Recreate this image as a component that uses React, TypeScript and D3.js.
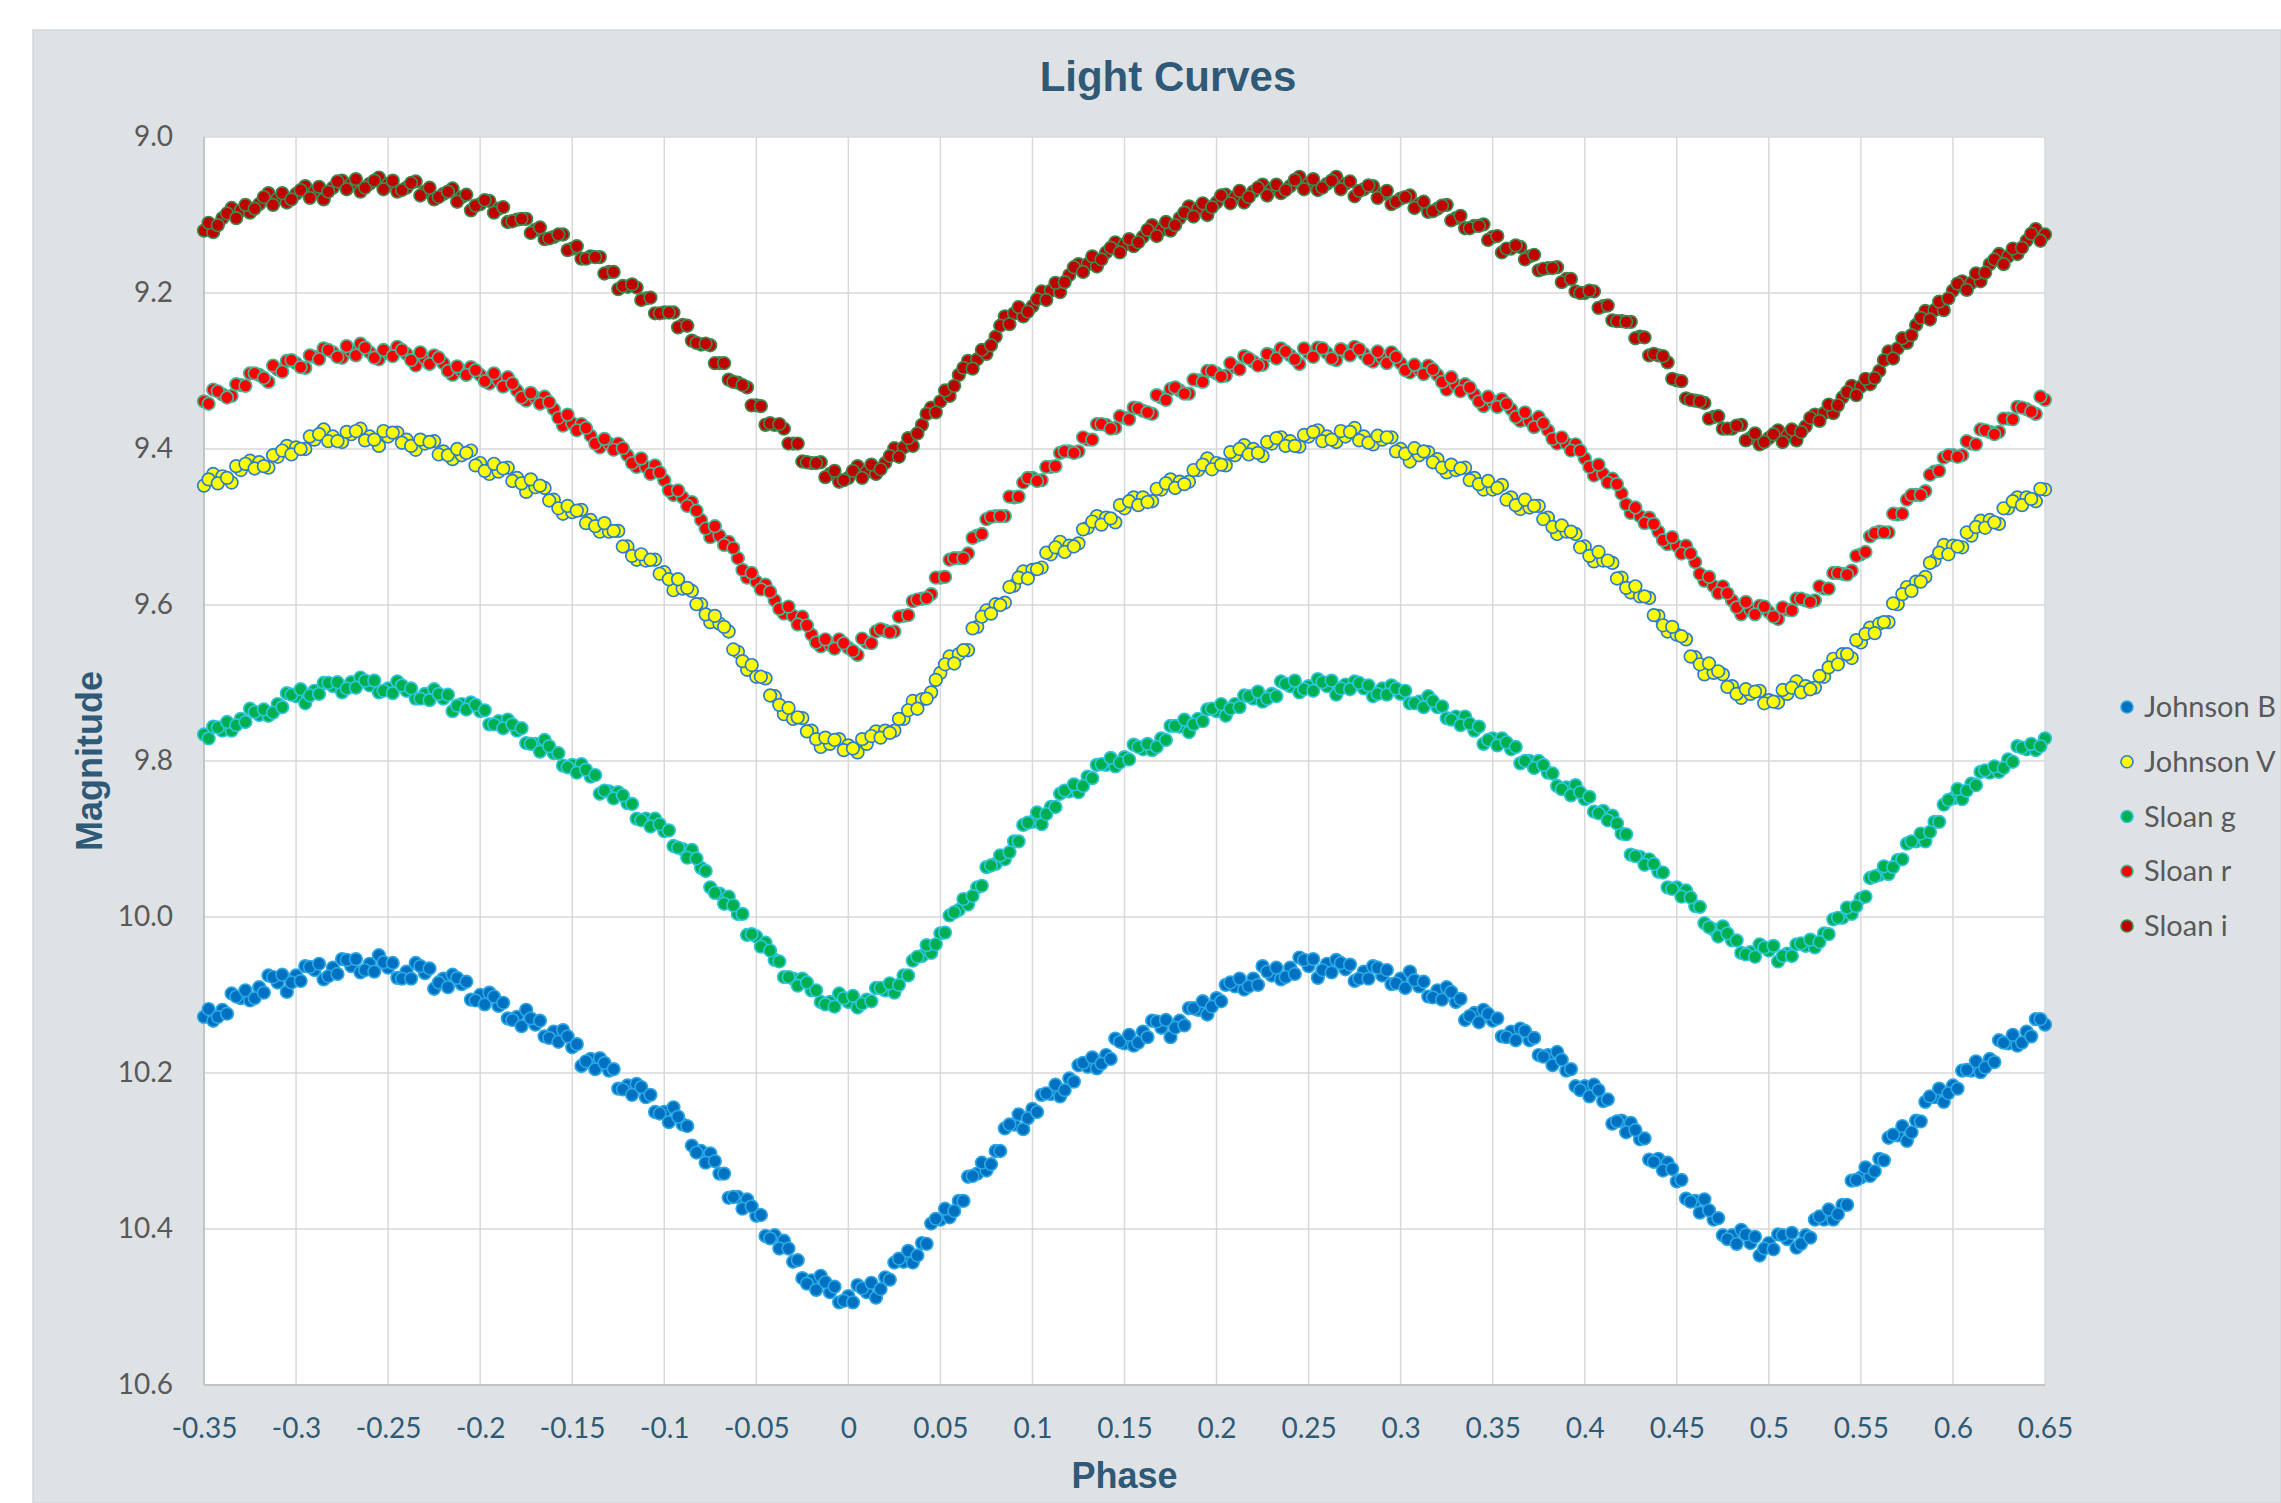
import React, { useEffect, useRef } from 'react';
import * as d3 from 'd3';

const W = 2281;
const H = 1503;

// axis ticks
const phaseTicks = [-0.35, -0.3, -0.25, -0.2, -0.15, -0.1, -0.05, 0, 0.05, 0.1, 0.15, 0.2, 0.25, 0.3, 0.35, 0.4, 0.45, 0.5, 0.55, 0.6, 0.65];
const phaseTickLabels = ['-0.35', '-0.3', '-0.25', '-0.2', '-0.15', '-0.1', '-0.05', '0', '0.05', '0.1', '0.15', '0.2', '0.25', '0.3', '0.35', '0.4', '0.45', '0.5', '0.55', '0.6', '0.65'];
const magTicks = [9.0, 9.2, 9.4, 9.6, 9.8, 10.0, 10.2, 10.4, 10.6];

// observation phases, first pass
const phases = [
  -0.35, -0.345, -0.34, -0.335, -0.33, -0.325, -0.32, -0.315, -0.31, -0.305,
  -0.3, -0.295, -0.29, -0.285, -0.28, -0.275, -0.27, -0.265, -0.26, -0.255,
  -0.25, -0.245, -0.24, -0.235, -0.23, -0.225, -0.22, -0.215, -0.21, -0.205,
  -0.2, -0.195, -0.19, -0.185, -0.18, -0.175, -0.17, -0.165, -0.16, -0.155,
  -0.15, -0.145, -0.14, -0.135, -0.13, -0.125, -0.12, -0.115, -0.11, -0.105,
  -0.1, -0.095, -0.09, -0.085, -0.08, -0.075, -0.07, -0.065, -0.06, -0.055,
  -0.05, -0.045, -0.04, -0.035, -0.03, -0.025, -0.02, -0.015, -0.01, -0.005,
  0, 0.005, 0.01, 0.015, 0.02, 0.025, 0.03, 0.035, 0.04, 0.045,
  0.05, 0.055, 0.06, 0.065, 0.07, 0.075, 0.08, 0.085, 0.09, 0.095,
  0.1, 0.105, 0.11, 0.115, 0.12, 0.125, 0.13, 0.135, 0.14, 0.145,
  0.15, 0.155, 0.16, 0.165, 0.17, 0.175, 0.18, 0.185, 0.19, 0.195,
  0.2, 0.205, 0.21, 0.215, 0.22, 0.225, 0.23, 0.235, 0.24, 0.245,
  0.25, 0.255, 0.26, 0.265, 0.27, 0.275, 0.28, 0.285, 0.29, 0.295,
  0.3, 0.305, 0.31, 0.315, 0.32, 0.325, 0.33, 0.335, 0.34, 0.345,
  0.35, 0.355, 0.36, 0.365, 0.37, 0.375, 0.38, 0.385, 0.39, 0.395,
  0.4, 0.405, 0.41, 0.415, 0.42, 0.425, 0.43, 0.435, 0.44, 0.445,
  0.45, 0.455, 0.46, 0.465, 0.47, 0.475, 0.48, 0.485, 0.49, 0.495,
  0.5, 0.505, 0.51, 0.515, 0.52, 0.525, 0.53, 0.535, 0.54, 0.545,
  0.55, 0.555, 0.56, 0.565, 0.57, 0.575, 0.58, 0.585, 0.59, 0.595,
  0.6, 0.605, 0.61, 0.615, 0.62, 0.625, 0.63, 0.635, 0.64, 0.645,
  0.65
];

// observation phases, second pass
const phases2 = [
  -0.3475, -0.3425, -0.3375, -0.3325, -0.3275, -0.3225, -0.3175, -0.3125, -0.3075, -0.3025,
  -0.2975, -0.2925, -0.2875, -0.2825, -0.2775, -0.2725, -0.2675, -0.2625, -0.2575, -0.2525,
  -0.2475, -0.2425, -0.2375, -0.2325, -0.2275, -0.2225, -0.2175, -0.2125, -0.2075, -0.2025,
  -0.1975, -0.1925, -0.1875, -0.1825, -0.1775, -0.1725, -0.1675, -0.1625, -0.1575, -0.1525,
  -0.1475, -0.1425, -0.1375, -0.1325, -0.1275, -0.1225, -0.1175, -0.1125, -0.1075, -0.1025,
  -0.0975, -0.0925, -0.0875, -0.0825, -0.0775, -0.0725, -0.0675, -0.0625, -0.0575, -0.0525,
  -0.0475, -0.0425, -0.0375, -0.0325, -0.0275, -0.0225, -0.0175, -0.0125, -0.0075, -0.0025,
  0.0025, 0.0075, 0.0125, 0.0175, 0.0225, 0.0275, 0.0325, 0.0375, 0.0425, 0.0475,
  0.0525, 0.0575, 0.0625, 0.0675, 0.0725, 0.0775, 0.0825, 0.0875, 0.0925, 0.0975,
  0.1025, 0.1075, 0.1125, 0.1175, 0.1225, 0.1275, 0.1325, 0.1375, 0.1425, 0.1475,
  0.1525, 0.1575, 0.1625, 0.1675, 0.1725, 0.1775, 0.1825, 0.1875, 0.1925, 0.1975,
  0.2025, 0.2075, 0.2125, 0.2175, 0.2225, 0.2275, 0.2325, 0.2375, 0.2425, 0.2475,
  0.2525, 0.2575, 0.2625, 0.2675, 0.2725, 0.2775, 0.2825, 0.2875, 0.2925, 0.2975,
  0.3025, 0.3075, 0.3125, 0.3175, 0.3225, 0.3275, 0.3325, 0.3375, 0.3425, 0.3475,
  0.3525, 0.3575, 0.3625, 0.3675, 0.3725, 0.3775, 0.3825, 0.3875, 0.3925, 0.3975,
  0.4025, 0.4075, 0.4125, 0.4175, 0.4225, 0.4275, 0.4325, 0.4375, 0.4425, 0.4475,
  0.4525, 0.4575, 0.4625, 0.4675, 0.4725, 0.4775, 0.4825, 0.4875, 0.4925, 0.4975,
  0.5025, 0.5075, 0.5125, 0.5175, 0.5225, 0.5275, 0.5325, 0.5375, 0.5425, 0.5475,
  0.5525, 0.5575, 0.5625, 0.5675, 0.5725, 0.5775, 0.5825, 0.5875, 0.5925, 0.5975,
  0.6025, 0.6075, 0.6125, 0.6175, 0.6225, 0.6275, 0.6325, 0.6375, 0.6425, 0.6475
];

const johnsonB = [
  10.128, 10.133, 10.119, 10.098, 10.104, 10.107, 10.090, 10.075, 10.084, 10.096,
  10.075, 10.063, 10.068, 10.080, 10.065, 10.054, 10.063, 10.071, 10.060, 10.049,
  10.065, 10.078, 10.070, 10.059, 10.072, 10.092, 10.079, 10.074, 10.086, 10.106,
  10.100, 10.097, 10.114, 10.130, 10.128, 10.119, 10.138, 10.153, 10.147, 10.145,
  10.167, 10.191, 10.182, 10.181, 10.197, 10.220, 10.216, 10.214, 10.231, 10.250,
  10.250, 10.244, 10.266, 10.293, 10.300, 10.303, 10.329, 10.360, 10.359, 10.362,
  10.383, 10.409, 10.408, 10.415, 10.442, 10.463, 10.466, 10.460, 10.481, 10.494,
  10.486, 10.472, 10.481, 10.488, 10.462, 10.443, 10.442, 10.443, 10.418, 10.393,
  10.388, 10.385, 10.364, 10.333, 10.329, 10.325, 10.300, 10.271, 10.266, 10.272,
  10.246, 10.228, 10.227, 10.230, 10.207, 10.190, 10.192, 10.194, 10.177, 10.156,
  10.162, 10.165, 10.147, 10.133, 10.142, 10.154, 10.133, 10.117, 10.119, 10.125,
  10.104, 10.087, 10.089, 10.093, 10.079, 10.063, 10.075, 10.080, 10.065, 10.052,
  10.063, 10.078, 10.060, 10.055, 10.067, 10.082, 10.070, 10.063, 10.075, 10.086,
  10.079, 10.070, 10.089, 10.102, 10.094, 10.090, 10.109, 10.132, 10.123, 10.119,
  10.133, 10.153, 10.147, 10.143, 10.158, 10.177, 10.177, 10.173, 10.197, 10.217,
  10.217, 10.215, 10.236, 10.265, 10.261, 10.264, 10.285, 10.311, 10.310, 10.315,
  10.339, 10.361, 10.364, 10.362, 10.388, 10.408, 10.408, 10.401, 10.418, 10.434,
  10.418, 10.407, 10.413, 10.424, 10.408, 10.388, 10.388, 10.388, 10.369, 10.338,
  10.334, 10.332, 10.310, 10.283, 10.280, 10.287, 10.261, 10.237, 10.231, 10.237,
  10.216, 10.197, 10.197, 10.199, 10.182, 10.158, 10.162, 10.165, 10.147, 10.131,
  10.138
];

const johnsonB2 = [
  10.118, 10.128, 10.124, 10.102, 10.094, 10.104, 10.097, 10.077, 10.074, 10.084,
  10.082, 10.064, 10.060, 10.076, 10.073, 10.055, 10.054, 10.068, 10.070, 10.058,
  10.059, 10.079, 10.079, 10.063, 10.066, 10.084, 10.090, 10.078, 10.083, 10.107,
  10.112, 10.102, 10.110, 10.132, 10.140, 10.130, 10.133, 10.155, 10.160, 10.153,
  10.163, 10.185, 10.195, 10.187, 10.195, 10.221, 10.228, 10.218, 10.228, 10.252,
  10.263, 10.256, 10.268, 10.302, 10.315, 10.313, 10.329, 10.359, 10.374, 10.371,
  10.382, 10.412, 10.425, 10.425, 10.440, 10.470, 10.478, 10.468, 10.474, 10.492,
  10.494, 10.476, 10.469, 10.477, 10.465, 10.438, 10.428, 10.434, 10.419, 10.387,
  10.374, 10.377, 10.364, 10.332, 10.315, 10.317, 10.300, 10.266, 10.253, 10.258,
  10.250, 10.226, 10.215, 10.222, 10.211, 10.187, 10.180, 10.188, 10.182, 10.160,
  10.151, 10.161, 10.154, 10.134, 10.132, 10.142, 10.139, 10.117, 10.108, 10.115,
  10.108, 10.084, 10.079, 10.089, 10.087, 10.070, 10.065, 10.077, 10.073, 10.055,
  10.054, 10.068, 10.071, 10.059, 10.061, 10.079, 10.079, 10.065, 10.068, 10.085,
  10.091, 10.081, 10.083, 10.103, 10.106, 10.096, 10.105, 10.127, 10.135, 10.124,
  10.130, 10.154, 10.158, 10.146, 10.155, 10.179, 10.190, 10.183, 10.195, 10.222,
  10.230, 10.222, 10.234, 10.262, 10.276, 10.273, 10.284, 10.314, 10.325, 10.323,
  10.337, 10.365, 10.379, 10.376, 10.386, 10.413, 10.419, 10.407, 10.410, 10.425,
  10.426, 10.408, 10.405, 10.419, 10.411, 10.384, 10.375, 10.381, 10.369, 10.337,
  10.321, 10.326, 10.312, 10.279, 10.268, 10.276, 10.262, 10.230, 10.220, 10.226,
  10.220, 10.196, 10.185, 10.193, 10.186, 10.161, 10.151, 10.161, 10.153, 10.131
];

const johnsonV = [
  9.447, 9.432, 9.435, 9.443, 9.427, 9.415, 9.417, 9.424, 9.410, 9.396,
  9.398, 9.400, 9.388, 9.375, 9.384, 9.391, 9.381, 9.374, 9.384, 9.396,
  9.384, 9.379, 9.388, 9.401, 9.393, 9.390, 9.403, 9.413, 9.408, 9.402,
  9.418, 9.432, 9.429, 9.424, 9.437, 9.455, 9.449, 9.450, 9.465, 9.483,
  9.481, 9.478, 9.491, 9.506, 9.506, 9.505, 9.525, 9.542, 9.543, 9.542,
  9.558, 9.581, 9.579, 9.582, 9.599, 9.622, 9.624, 9.634, 9.660, 9.683,
  9.692, 9.694, 9.717, 9.740, 9.746, 9.745, 9.761, 9.782, 9.778, 9.772,
  9.780, 9.789, 9.778, 9.762, 9.761, 9.761, 9.746, 9.723, 9.721, 9.712,
  9.687, 9.666, 9.663, 9.658, 9.628, 9.607, 9.599, 9.597, 9.575, 9.557,
  9.555, 9.552, 9.535, 9.519, 9.524, 9.521, 9.501, 9.486, 9.488, 9.494,
  9.476, 9.462, 9.462, 9.467, 9.452, 9.439, 9.442, 9.442, 9.427, 9.412,
  9.418, 9.421, 9.408, 9.395, 9.400, 9.409, 9.393, 9.385, 9.390, 9.397,
  9.384, 9.376, 9.384, 9.391, 9.384, 9.373, 9.384, 9.394, 9.388, 9.385,
  9.400, 9.416, 9.408, 9.404, 9.413, 9.430, 9.427, 9.424, 9.437, 9.452,
  9.452, 9.446, 9.462, 9.477, 9.475, 9.473, 9.488, 9.509, 9.506, 9.509,
  9.525, 9.544, 9.543, 9.546, 9.565, 9.584, 9.589, 9.591, 9.614, 9.634,
  9.638, 9.644, 9.667, 9.689, 9.687, 9.689, 9.704, 9.719, 9.714, 9.710,
  9.722, 9.725, 9.714, 9.698, 9.704, 9.706, 9.692, 9.669, 9.663, 9.668,
  9.648, 9.629, 9.624, 9.622, 9.599, 9.577, 9.570, 9.564, 9.543, 9.523,
  9.524, 9.526, 9.511, 9.492, 9.491, 9.496, 9.476, 9.462, 9.462, 9.467,
  9.452
];

const johnsonV2 = [
  9.439, 9.444, 9.437, 9.422, 9.419, 9.425, 9.422, 9.408, 9.402, 9.407,
  9.400, 9.384, 9.381, 9.390, 9.390, 9.378, 9.377, 9.389, 9.388, 9.377,
  9.379, 9.392, 9.396, 9.388, 9.391, 9.407, 9.408, 9.400, 9.405, 9.421,
  9.428, 9.419, 9.425, 9.441, 9.444, 9.439, 9.447, 9.466, 9.476, 9.473,
  9.479, 9.495, 9.499, 9.495, 9.505, 9.525, 9.537, 9.535, 9.542, 9.560,
  9.567, 9.567, 9.578, 9.599, 9.612, 9.614, 9.628, 9.657, 9.672, 9.677,
  9.692, 9.716, 9.728, 9.732, 9.744, 9.762, 9.772, 9.770, 9.773, 9.786,
  9.784, 9.772, 9.768, 9.770, 9.764, 9.746, 9.735, 9.733, 9.720, 9.696,
  9.676, 9.675, 9.658, 9.630, 9.615, 9.611, 9.600, 9.577, 9.565, 9.566,
  9.554, 9.533, 9.526, 9.532, 9.525, 9.503, 9.493, 9.497, 9.489, 9.472,
  9.467, 9.472, 9.468, 9.451, 9.444, 9.450, 9.445, 9.427, 9.420, 9.426,
  9.420, 9.404, 9.400, 9.407, 9.405, 9.391, 9.386, 9.396, 9.396, 9.382,
  9.378, 9.390, 9.388, 9.377, 9.378, 9.389, 9.392, 9.383, 9.385, 9.403,
  9.406, 9.399, 9.403, 9.417, 9.424, 9.420, 9.425, 9.440, 9.445, 9.441,
  9.450, 9.465, 9.472, 9.465, 9.473, 9.490, 9.500, 9.498, 9.506, 9.526,
  9.537, 9.532, 9.543, 9.566, 9.578, 9.576, 9.589, 9.613, 9.626, 9.628,
  9.640, 9.666, 9.676, 9.675, 9.685, 9.705, 9.714, 9.708, 9.711, 9.726,
  9.724, 9.709, 9.706, 9.712, 9.708, 9.691, 9.680, 9.676, 9.663, 9.645,
  9.637, 9.636, 9.622, 9.598, 9.586, 9.582, 9.570, 9.546, 9.533, 9.535,
  9.525, 9.507, 9.500, 9.501, 9.494, 9.476, 9.467, 9.472, 9.464, 9.451
];

const sloanG = [
  9.766, 9.756, 9.761, 9.761, 9.746, 9.733, 9.741, 9.742, 9.727, 9.713,
  9.717, 9.726, 9.710, 9.700, 9.704, 9.712, 9.699, 9.693, 9.703, 9.712,
  9.707, 9.698, 9.710, 9.720, 9.714, 9.708, 9.720, 9.736, 9.727, 9.725,
  9.736, 9.753, 9.749, 9.747, 9.761, 9.777, 9.778, 9.773, 9.790, 9.806,
  9.805, 9.804, 9.820, 9.842, 9.839, 9.840, 9.854, 9.874, 9.874, 9.874,
  9.890, 9.909, 9.913, 9.914, 9.937, 9.962, 9.970, 9.974, 9.996, 10.023,
  10.025, 10.033, 10.055, 10.077, 10.079, 10.079, 10.094, 10.109, 10.109, 10.098,
  10.109, 10.116, 10.106, 10.091, 10.094, 10.097, 10.075, 10.056, 10.050, 10.046,
  10.021, 9.998, 9.991, 9.984, 9.962, 9.936, 9.932, 9.926, 9.903, 9.882,
  9.878, 9.881, 9.859, 9.842, 9.839, 9.840, 9.820, 9.805, 9.805, 9.807,
  9.795, 9.779, 9.785, 9.786, 9.771, 9.755, 9.756, 9.763, 9.746, 9.734,
  9.736, 9.742, 9.727, 9.716, 9.720, 9.724, 9.714, 9.698, 9.704, 9.712,
  9.704, 9.695, 9.704, 9.715, 9.702, 9.698, 9.707, 9.717, 9.707, 9.703,
  9.714, 9.726, 9.724, 9.717, 9.731, 9.745, 9.743, 9.743, 9.761, 9.778,
  9.771, 9.771, 9.785, 9.803, 9.800, 9.800, 9.815, 9.832, 9.834, 9.831,
  9.849, 9.865, 9.864, 9.870, 9.893, 9.920, 9.923, 9.926, 9.942, 9.962,
  9.962, 9.966, 9.986, 10.008, 10.016, 10.012, 10.030, 10.046, 10.045, 10.035,
  10.043, 10.057, 10.047, 10.035, 10.037, 10.039, 10.021, 10.003, 10.001, 9.996,
  9.976, 9.950, 9.946, 9.945, 9.927, 9.906, 9.903, 9.903, 9.878, 9.856,
  9.848, 9.849, 9.829, 9.814, 9.815, 9.814, 9.798, 9.781, 9.785, 9.786,
  9.771
];

const sloanG2 = [
  9.771, 9.757, 9.750, 9.754, 9.750, 9.737, 9.734, 9.738, 9.731, 9.715,
  9.708, 9.716, 9.714, 9.700, 9.699, 9.707, 9.706, 9.697, 9.697, 9.710,
  9.713, 9.703, 9.707, 9.720, 9.722, 9.714, 9.715, 9.729, 9.734, 9.728,
  9.735, 9.753, 9.758, 9.753, 9.758, 9.778, 9.788, 9.781, 9.790, 9.808,
  9.815, 9.811, 9.818, 9.838, 9.848, 9.844, 9.855, 9.876, 9.884, 9.881,
  9.889, 9.911, 9.924, 9.925, 9.941, 9.969, 9.983, 9.985, 9.996, 10.022,
  10.038, 10.043, 10.057, 10.077, 10.088, 10.084, 10.094, 10.112, 10.115, 10.104,
  10.101, 10.111, 10.108, 10.091, 10.085, 10.087, 10.075, 10.051, 10.036, 10.035,
  10.020, 9.994, 9.977, 9.973, 9.960, 9.934, 9.921, 9.917, 9.903, 9.879,
  9.866, 9.868, 9.859, 9.838, 9.830, 9.832, 9.822, 9.804, 9.796, 9.802,
  9.798, 9.782, 9.778, 9.782, 9.773, 9.755, 9.747, 9.753, 9.749, 9.733,
  9.727, 9.733, 9.731, 9.717, 9.711, 9.720, 9.717, 9.701, 9.697, 9.708,
  9.710, 9.699, 9.697, 9.707, 9.708, 9.700, 9.703, 9.714, 9.715, 9.707,
  9.710, 9.726, 9.731, 9.723, 9.730, 9.747, 9.754, 9.752, 9.756, 9.773,
  9.780, 9.776, 9.782, 9.800, 9.809, 9.805, 9.816, 9.836, 9.844, 9.840,
  9.846, 9.867, 9.876, 9.880, 9.894, 9.922, 9.933, 9.932, 9.943, 9.964,
  9.974, 9.975, 9.987, 10.013, 10.025, 10.021, 10.030, 10.048, 10.051, 10.039,
  10.037, 10.050, 10.050, 10.034, 10.029, 10.032, 10.022, 10.001, 9.988, 9.986,
  9.974, 9.948, 9.935, 9.936, 9.926, 9.903, 9.893, 9.891, 9.878, 9.850,
  9.836, 9.838, 9.831, 9.812, 9.807, 9.809, 9.801, 9.783, 9.778, 9.781
];

const sloanR = [
  9.339, 9.324, 9.330, 9.332, 9.318, 9.303, 9.305, 9.314, 9.298, 9.287,
  9.290, 9.296, 9.282, 9.271, 9.276, 9.283, 9.275, 9.265, 9.276, 9.285,
  9.277, 9.269, 9.278, 9.293, 9.284, 9.280, 9.290, 9.305, 9.300, 9.295,
  9.305, 9.316, 9.312, 9.308, 9.325, 9.338, 9.334, 9.333, 9.349, 9.370,
  9.367, 9.368, 9.383, 9.398, 9.393, 9.393, 9.408, 9.423, 9.423, 9.421,
  9.440, 9.459, 9.462, 9.468, 9.491, 9.513, 9.511, 9.519, 9.540, 9.565,
  9.570, 9.574, 9.594, 9.611, 9.614, 9.615, 9.638, 9.653, 9.651, 9.644,
  9.655, 9.664, 9.648, 9.634, 9.633, 9.634, 9.614, 9.595, 9.592, 9.586,
  9.565, 9.542, 9.540, 9.534, 9.511, 9.490, 9.486, 9.486, 9.462, 9.443,
  9.437, 9.440, 9.423, 9.405, 9.403, 9.403, 9.388, 9.368, 9.369, 9.373,
  9.360, 9.347, 9.351, 9.355, 9.334, 9.323, 9.325, 9.329, 9.312, 9.300,
  9.303, 9.306, 9.295, 9.281, 9.288, 9.292, 9.280, 9.271, 9.280, 9.291,
  9.277, 9.270, 9.277, 9.286, 9.275, 9.269, 9.278, 9.288, 9.283, 9.276,
  9.290, 9.302, 9.298, 9.293, 9.305, 9.324, 9.318, 9.317, 9.330, 9.345,
  9.339, 9.336, 9.349, 9.364, 9.364, 9.359, 9.376, 9.393, 9.393, 9.394,
  9.412, 9.434, 9.432, 9.438, 9.457, 9.482, 9.486, 9.488, 9.506, 9.522,
  9.524, 9.524, 9.545, 9.569, 9.576, 9.576, 9.594, 9.612, 9.606, 9.601,
  9.609, 9.618, 9.606, 9.592, 9.594, 9.594, 9.579, 9.559, 9.560, 9.556,
  9.535, 9.512, 9.506, 9.507, 9.484, 9.465, 9.459, 9.454, 9.429, 9.411,
  9.408, 9.408, 9.393, 9.375, 9.378, 9.378, 9.361, 9.346, 9.349, 9.355,
  9.337
];

const sloanR2 = [
  9.342, 9.326, 9.334, 9.317, 9.319, 9.303, 9.309, 9.293, 9.301, 9.286,
  9.295, 9.280, 9.285, 9.273, 9.282, 9.268, 9.280, 9.270, 9.283, 9.273,
  9.281, 9.273, 9.286, 9.276, 9.291, 9.283, 9.300, 9.294, 9.305, 9.299,
  9.313, 9.303, 9.320, 9.316, 9.334, 9.328, 9.342, 9.340, 9.360, 9.356,
  9.376, 9.373, 9.393, 9.387, 9.401, 9.399, 9.418, 9.412, 9.432, 9.430,
  9.453, 9.453, 9.473, 9.479, 9.502, 9.499, 9.523, 9.527, 9.555, 9.559,
  9.580, 9.583, 9.605, 9.602, 9.625, 9.626, 9.648, 9.644, 9.656, 9.649,
  9.659, 9.643, 9.649, 9.631, 9.635, 9.615, 9.613, 9.593, 9.591, 9.565,
  9.564, 9.540, 9.540, 9.514, 9.509, 9.487, 9.486, 9.461, 9.461, 9.437,
  9.441, 9.423, 9.422, 9.403, 9.405, 9.385, 9.388, 9.368, 9.374, 9.358,
  9.362, 9.348, 9.353, 9.331, 9.337, 9.321, 9.329, 9.311, 9.314, 9.300,
  9.307, 9.290, 9.298, 9.284, 9.293, 9.278, 9.284, 9.275, 9.285, 9.271,
  9.282, 9.271, 9.284, 9.272, 9.280, 9.272, 9.285, 9.275, 9.290, 9.282,
  9.299, 9.292, 9.304, 9.298, 9.314, 9.308, 9.326, 9.321, 9.339, 9.333,
  9.346, 9.342, 9.359, 9.353, 9.372, 9.367, 9.387, 9.385, 9.402, 9.402,
  9.423, 9.420, 9.443, 9.445, 9.471, 9.475, 9.495, 9.496, 9.517, 9.513,
  9.534, 9.534, 9.560, 9.564, 9.585, 9.585, 9.603, 9.596, 9.612, 9.602,
  9.615, 9.603, 9.607, 9.592, 9.596, 9.576, 9.579, 9.559, 9.561, 9.537,
  9.532, 9.508, 9.507, 9.483, 9.483, 9.459, 9.459, 9.433, 9.428, 9.408,
  9.410, 9.390, 9.394, 9.376, 9.381, 9.361, 9.362, 9.347, 9.352, 9.333
];

const sloanI = [
  9.120, 9.122, 9.104, 9.091, 9.094, 9.097, 9.086, 9.072, 9.079, 9.084,
  9.073, 9.063, 9.070, 9.080, 9.065, 9.056, 9.060, 9.070, 9.060, 9.052,
  9.060, 9.070, 9.065, 9.057, 9.070, 9.080, 9.073, 9.066, 9.077, 9.094,
  9.086, 9.082, 9.092, 9.109, 9.106, 9.105, 9.119, 9.131, 9.128, 9.125,
  9.143, 9.156, 9.153, 9.154, 9.173, 9.195, 9.192, 9.193, 9.207, 9.226,
  9.225, 9.225, 9.241, 9.261, 9.266, 9.267, 9.290, 9.311, 9.315, 9.321,
  9.344, 9.369, 9.369, 9.374, 9.393, 9.416, 9.418, 9.417, 9.432, 9.442,
  9.437, 9.422, 9.429, 9.432, 9.418, 9.399, 9.398, 9.396, 9.369, 9.347,
  9.339, 9.332, 9.305, 9.287, 9.285, 9.278, 9.256, 9.230, 9.226, 9.230,
  9.217, 9.198, 9.197, 9.199, 9.177, 9.163, 9.163, 9.166, 9.148, 9.135,
  9.138, 9.140, 9.128, 9.113, 9.119, 9.120, 9.104, 9.089, 9.092, 9.100,
  9.084, 9.074, 9.077, 9.084, 9.070, 9.061, 9.067, 9.072, 9.063, 9.051,
  9.060, 9.068, 9.060, 9.051, 9.060, 9.076, 9.067, 9.063, 9.073, 9.086,
  9.079, 9.075, 9.086, 9.096, 9.092, 9.087, 9.104, 9.117, 9.114, 9.112,
  9.128, 9.148, 9.143, 9.141, 9.153, 9.171, 9.168, 9.167, 9.182, 9.198,
  9.200, 9.198, 9.217, 9.235, 9.236, 9.237, 9.256, 9.280, 9.280, 9.289,
  9.312, 9.335, 9.338, 9.341, 9.359, 9.374, 9.374, 9.369, 9.386, 9.394,
  9.386, 9.376, 9.383, 9.389, 9.371, 9.356, 9.354, 9.354, 9.334, 9.319,
  9.320, 9.317, 9.300, 9.275, 9.271, 9.264, 9.241, 9.223, 9.222, 9.222,
  9.197, 9.185, 9.187, 9.185, 9.163, 9.150, 9.153, 9.150, 9.133, 9.118,
  9.125
];

const sloanI2 = [
  9.110, 9.113, 9.098, 9.104, 9.087, 9.092, 9.077, 9.087, 9.072, 9.080,
  9.068, 9.078, 9.064, 9.070, 9.057, 9.067, 9.054, 9.065, 9.056, 9.067,
  9.056, 9.068, 9.059, 9.075, 9.065, 9.077, 9.070, 9.083, 9.074, 9.088,
  9.081, 9.097, 9.090, 9.108, 9.105, 9.123, 9.116, 9.130, 9.125, 9.145,
  9.140, 9.156, 9.154, 9.175, 9.173, 9.191, 9.189, 9.209, 9.206, 9.226,
  9.225, 9.244, 9.242, 9.264, 9.265, 9.290, 9.290, 9.314, 9.318, 9.344,
  9.345, 9.367, 9.368, 9.393, 9.393, 9.417, 9.418, 9.436, 9.428, 9.440,
  9.428, 9.437, 9.420, 9.426, 9.409, 9.410, 9.386, 9.380, 9.355, 9.353,
  9.325, 9.319, 9.296, 9.297, 9.273, 9.267, 9.242, 9.240, 9.218, 9.224,
  9.208, 9.209, 9.187, 9.186, 9.167, 9.173, 9.153, 9.157, 9.142, 9.148,
  9.131, 9.135, 9.119, 9.127, 9.109, 9.113, 9.097, 9.102, 9.085, 9.090,
  9.075, 9.085, 9.069, 9.077, 9.065, 9.075, 9.061, 9.068, 9.055, 9.067,
  9.054, 9.065, 9.056, 9.067, 9.057, 9.069, 9.062, 9.078, 9.069, 9.083,
  9.077, 9.091, 9.083, 9.095, 9.088, 9.107, 9.101, 9.117, 9.114, 9.132,
  9.127, 9.143, 9.139, 9.157, 9.151, 9.169, 9.168, 9.186, 9.182, 9.200,
  9.197, 9.219, 9.216, 9.236, 9.237, 9.258, 9.257, 9.278, 9.281, 9.310,
  9.313, 9.337, 9.339, 9.361, 9.358, 9.374, 9.370, 9.389, 9.380, 9.391,
  9.381, 9.391, 9.375, 9.378, 9.360, 9.364, 9.343, 9.344, 9.327, 9.331,
  9.310, 9.309, 9.286, 9.284, 9.258, 9.254, 9.232, 9.234, 9.211, 9.207,
  9.188, 9.196, 9.175, 9.174, 9.157, 9.163, 9.143, 9.142, 9.124, 9.133
];

const seriesNames = ['Johnson B', 'Johnson V', 'Sloan g', 'Sloan r', 'Sloan i'];
const seriesFirst = [johnsonB, johnsonV, sloanG, sloanR, sloanI];
const seriesSecond = [johnsonB2, johnsonV2, sloanG2, sloanR2, sloanI2];
const seriesFill = ['#0070c0', '#ffff00', '#00b050', '#ff0000', '#c00000'];
const seriesStroke = ['#2aa7e4', '#2e7cd0', '#2ec6da', '#47b697', '#3e8a50'];

const App = () => {
  const svgRef = useRef<SVGSVGElement>(null);

  useEffect(() => {
    const svg = d3.select(svgRef.current);
    svg.selectAll('*').remove();

    const plot = { left: 204, right: 2045, top: 137, bottom: 1385 };

    // chart background
    svg.append('rect').attr('width', W).attr('height', H).attr('fill', '#ffffff');
    svg.append('rect')
      .attr('x', 33).attr('y', 30)
      .attr('width', W - 33).attr('height', H - 30)
      .attr('fill', '#dfe2e5')
      .attr('stroke', '#d3d6d9')
      .attr('stroke-width', 1.5);

    const xScale = d3.scaleLinear().domain([-0.35, 0.65]).range([plot.left, plot.right]);
    const yScale = d3.scaleLinear().domain([9.0, 10.6]).range([plot.top, plot.bottom]);

    // plot area
    svg.append('rect')
      .attr('x', plot.left).attr('y', plot.top)
      .attr('width', plot.right - plot.left).attr('height', plot.bottom - plot.top)
      .attr('fill', '#ffffff');

    // grid lines
    svg.append('g').selectAll('line')
      .data(phaseTicks)
      .join('line')
      .attr('x1', d => xScale(d)).attr('x2', d => xScale(d))
      .attr('y1', plot.top).attr('y2', plot.bottom)
      .attr('stroke', '#d9d9d9').attr('stroke-width', 1.5);

    svg.append('g').selectAll('line')
      .data(magTicks)
      .join('line')
      .attr('x1', plot.left).attr('x2', plot.right)
      .attr('y1', d => yScale(d)).attr('y2', d => yScale(d))
      .attr('stroke', '#d9d9d9').attr('stroke-width', 1.5);

    // axis lines
    svg.append('line')
      .attr('x1', plot.left).attr('x2', plot.left)
      .attr('y1', plot.top).attr('y2', plot.bottom)
      .attr('stroke', '#c4c4c4').attr('stroke-width', 2);
    svg.append('line')
      .attr('x1', plot.left).attr('x2', plot.right)
      .attr('y1', plot.bottom).attr('y2', plot.bottom)
      .attr('stroke', '#c4c4c4').attr('stroke-width', 2);

    // axes (labels only)
    const xAxis = d3.axisBottom(xScale)
      .tickValues(phaseTicks)
      .tickFormat((d, i) => phaseTickLabels[i])
      .tickSize(0)
      .tickPadding(33);

    const xg = svg.append('g')
      .attr('transform', `translate(0, ${plot.bottom})`)
      .call(xAxis);
    xg.select('.domain').remove();
    xg.selectAll('text')
      .style('font-family', 'Lato, "Open Sans", sans-serif')
      .style('font-size', '28px')
      .attr('fill', '#2f5a77');

    const yAxis = d3.axisLeft(yScale)
      .tickValues(magTicks)
      .tickFormat(d3.format('.1f'))
      .tickSize(0)
      .tickPadding(31);

    const yg = svg.append('g')
      .attr('transform', `translate(${plot.left}, 0)`)
      .call(yAxis);
    yg.select('.domain').remove();
    yg.selectAll('text')
      .style('font-family', 'Lato, "Open Sans", sans-serif')
      .style('font-size', '28px')
      .attr('fill', '#595959');

    // series: both passes of each filter
    seriesFirst.forEach((values, si) => {
      const pts = [
        ...values.map((m, i) => ({ phase: phases[i], mag: m })),
        ...seriesSecond[si].map((m, i) => ({ phase: phases2[i], mag: m }))
      ];
      svg.append('g')
        .selectAll('circle')
        .data(pts)
        .join('circle')
        .attr('cx', d => xScale(d.phase))
        .attr('cy', d => yScale(d.mag))
        .attr('r', 6.3)
        .attr('fill', seriesFill[si])
        .attr('stroke', seriesStroke[si])
        .attr('stroke-width', 1.7);
    });

    // title and axis titles
    svg.append('text')
      .attr('x', 1168).attr('y', 91)
      .attr('text-anchor', 'middle')
      .style('font-family', '"Liberation Sans", Arial, sans-serif')
      .style('font-weight', 'bold')
      .style('font-size', '42px')
      .attr('fill', '#2f5a77')
      .text('Light Curves');

    svg.append('text')
      .attr('x', (plot.left + plot.right) / 2).attr('y', 1488)
      .attr('text-anchor', 'middle')
      .style('font-family', '"Liberation Sans", Arial, sans-serif')
      .style('font-weight', 'bold')
      .style('font-size', '36px')
      .attr('fill', '#2f5a77')
      .text('Phase');

    svg.append('text')
      .attr('transform', `translate(102, ${(plot.top + plot.bottom) / 2}) rotate(-90)`)
      .attr('text-anchor', 'middle')
      .style('font-family', '"Liberation Sans", Arial, sans-serif')
      .style('font-weight', 'bold')
      .style('font-size', '36px')
      .attr('fill', '#2f5a77')
      .text('Magnitude');

    // legend
    const legend = svg.append('g').attr('transform', 'translate(2127, 707)');
    const items = legend.selectAll('g')
      .data(seriesNames)
      .join('g')
      .attr('transform', (d, i) => `translate(0, ${i * 54.75})`);

    items.append('circle')
      .attr('r', 6)
      .attr('fill', (d, i) => seriesFill[i])
      .attr('stroke', (d, i) => seriesStroke[i])
      .attr('stroke-width', 1.6);

    items.append('text')
      .attr('x', 17)
      .attr('dy', '0.35em')
      .style('font-family', 'Lato, "Open Sans", sans-serif')
      .style('font-size', '29px')
      .attr('fill', '#595959')
      .text(d => d);
  }, []);

  return (
    <svg
      ref={svgRef}
      width={W}
      height={H}
      style={{ position: 'absolute', left: 0, top: 0 }}
    />
  );
};

export default App;
